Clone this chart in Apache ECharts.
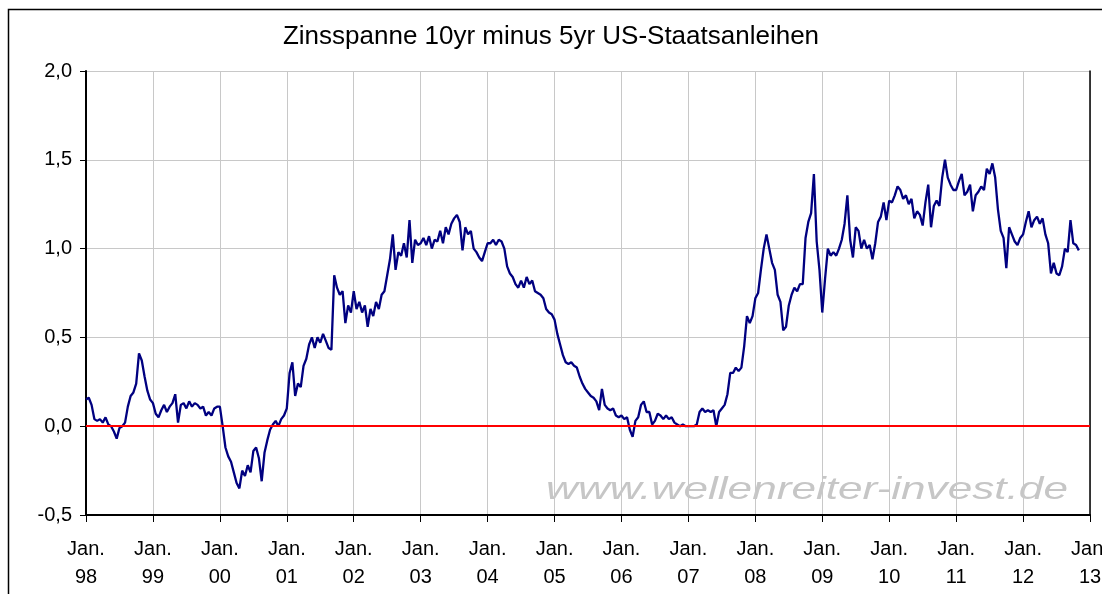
<!DOCTYPE html>
<html>
<head>
<meta charset="utf-8">
<script src="https://cdn.jsdelivr.net/npm/echarts@6/dist/echarts.min.js"></script>
<style>
html,body{margin:0;padding:0;background:#fff;}
#chart{width:1102px;height:594px;}
</style>
</head>
<body>
<div id="chart"></div>
<script>
// Semi-monthly readings (1st and 15th of each month), per year
const y1998 = [0.15,0.16,0.12,0.04,0.03,0.04,0.02,0.05,0.01,0.00,-0.03,-0.07,-0.01,0.00,0.02,0.11,0.17,0.19,0.24,0.41,0.37,0.28,0.20,0.15];
const y1999 = [0.13,0.07,0.05,0.09,0.12,0.08,0.11,0.13,0.18,0.02,0.12,0.13,0.10,0.14,0.11,0.13,0.12,0.10,0.11,0.06,0.08,0.06,0.10,0.11];
const y2000 = [0.11,0.00,-0.12,-0.17,-0.20,-0.26,-0.32,-0.35,-0.25,-0.28,-0.22,-0.26,-0.14,-0.12,-0.18,-0.31,-0.15,-0.08,-0.02,0.01,0.03,0.00,0.04,0.06];
const y2001 = [0.10,0.30,0.36,0.17,0.24,0.22,0.34,0.38,0.46,0.50,0.44,0.50,0.47,0.52,0.48,0.44,0.43,0.85,0.78,0.74,0.76,0.58,0.68,0.64];
const y2002 = [0.76,0.66,0.70,0.64,0.68,0.56,0.66,0.62,0.70,0.66,0.74,0.76,0.85,0.94,1.08,0.88,0.98,0.96,1.03,0.95,1.16,0.92,1.05,1.02];
const y2003 = [1.03,1.06,1.02,1.07,1.00,1.05,1.04,1.10,1.03,1.12,1.08,1.14,1.17,1.19,1.15,0.99,1.12,1.08,1.10,1.00,0.98,0.95,0.93,0.98];
const y2004 = [1.03,1.03,1.05,1.02,1.05,1.04,1.00,0.90,0.86,0.84,0.80,0.78,0.82,0.78,0.84,0.80,0.82,0.76,0.75,0.74,0.72,0.66,0.64,0.63];
const y2005 = [0.60,0.52,0.46,0.40,0.36,0.35,0.36,0.34,0.33,0.28,0.24,0.21,0.19,0.17,0.16,0.14,0.09,0.21,0.12,0.10,0.09,0.10,0.06,0.05];
const y2006 = [0.06,0.04,0.05,-0.02,-0.06,0.03,0.05,0.12,0.14,0.08,0.08,0.01,0.03,0.07,0.06,0.04,0.06,0.04,0.05,0.02,0.01,0.00,0.01,0.00];
const y2007 = [0.00,0.00,0.00,0.01,0.08,0.10,0.08,0.09,0.08,0.09,0.00,0.08,0.10,0.12,0.18,0.30,0.30,0.33,0.31,0.33,0.45,0.62,0.58,0.62];
const y2008 = [0.72,0.75,0.88,1.00,1.08,1.00,0.92,0.88,0.74,0.70,0.54,0.56,0.68,0.74,0.78,0.76,0.80,0.80,1.06,1.15,1.20,1.42,1.04,0.88];
const y2009 = [0.64,0.83,1.00,0.96,0.98,0.96,1.00,1.05,1.14,1.30,1.05,0.95,1.12,1.10,1.00,1.05,1.00,1.02,0.94,1.03,1.15,1.18,1.26,1.16];
const y2010 = [1.27,1.26,1.30,1.35,1.33,1.28,1.30,1.25,1.28,1.17,1.21,1.19,1.13,1.26,1.36,1.12,1.24,1.27,1.24,1.40,1.50,1.40,1.36,1.33];
const y2011 = [1.33,1.38,1.42,1.30,1.32,1.36,1.21,1.30,1.32,1.35,1.33,1.45,1.42,1.48,1.40,1.22,1.10,1.06,0.89,1.12,1.08,1.04,1.02,1.06];
const y2012 = [1.08,1.15,1.21,1.12,1.16,1.18,1.14,1.17,1.08,1.03,0.86,0.92,0.86,0.85,0.90,1.00,0.98,1.16,1.03,1.02,0.99];

const years = [1998,1999,2000,2001,2002,2003,2004,2005,2006,2007,2008,2009,2010,2011,2012];
const yearValues = [y1998,y1999,y2000,y2001,y2002,y2003,y2004,y2005,y2006,y2007,y2008,y2009,y2010,y2011,y2012];
const xTickPrefix = 'Jan.';
const titleText = 'Zinsspanne 10yr minus 5yr US-Staatsanleihen';
const watermarkText = 'www.wellenreiter-invest.de';

const data = [];
years.forEach((yr, k) => {
  yearValues[k].forEach((v, i) => data.push([yr + i / 24, v]));
});

const FONT = '"Liberation Sans", Arial, sans-serif';
const chart = echarts.init(document.getElementById('chart'));
chart.setOption({
  animation: false,
  backgroundColor: '#ffffff',
  title: {
    text: titleText,
    left: 'center',
    top: 19,
    textStyle: {fontFamily: FONT, fontSize: 26, fontWeight: 'normal', color: '#000'}
  },
  grid: {left: 86, right: 12, top: 71, bottom: 79, outerBoundsMode: 'none', containLabel: false},
  xAxis: {
    type: 'value',
    min: 1998, max: 2013, interval: 1,
    axisLine: {show: true, onZero: false, lineStyle: {color: '#000', width: 2}},
    axisTick: {show: true, length: 7, lineStyle: {color: '#000', width: 1}},
    splitLine: {show: true, lineStyle: {color: '#c8c8c8', width: 1}},
    axisLabel: {
      fontFamily: FONT, fontSize: 20, lineHeight: 28, margin: 20, color: '#000',
      hideOverlap: false,
      formatter: v => Number.isInteger(v) ? xTickPrefix + '\n' + String(v % 100).padStart(2, '0') : ''
    }
  },
  yAxis: [{
    type: 'value',
    min: -0.5, max: 2, interval: 0.5,
    axisLine: {show: true, onZero: false, lineStyle: {color: '#000', width: 2}},
    axisTick: {show: true, length: 6, lineStyle: {color: '#000', width: 1}},
    splitLine: {show: true, lineStyle: {color: '#c8c8c8', width: 1}},
    axisLabel: {
      fontFamily: FONT, fontSize: 20, margin: 14, color: '#000',
      formatter: v => v.toFixed(1).replace('.', ',')
    }
  }, {
    type: 'value', position: 'right',
    min: -0.5, max: 2, interval: 0.5,
    axisLine: {show: true, lineStyle: {color: '#000', width: 1.5}},
    axisTick: {show: false}, axisLabel: {show: false}, splitLine: {show: false}
  }],
  graphic: [
    {
      type: 'rect', silent: true, z: -10,
      shape: {x: 8.5, y: 9.5, width: 1110, height: 600},
      style: {fill: 'none', stroke: '#000', lineWidth: 1.5}
    },
    {
      type: 'text', silent: true, z: -5,
      x: 546, y: 490, scaleX: 1.38,
      style: {
        text: watermarkText,
        font: 'italic 32px "Liberation Sans", Arial, sans-serif',
        fill: '#c6c6c6',
        textVerticalAlign: 'middle'
      }
    }
  ],
  series: [{
    type: 'line',
    data: data,
    showSymbol: false,
    symbol: 'none',
    lineStyle: {color: '#000080', width: 2.3},
    itemStyle: {color: '#000080'},
    markLine: {
      silent: true, symbol: 'none', animation: false,
      label: {show: false},
      lineStyle: {color: '#ff0000', width: 2, type: 'solid'},
      data: [{yAxis: 0}]
    }
  }]
});
</script>
</body>
</html>
